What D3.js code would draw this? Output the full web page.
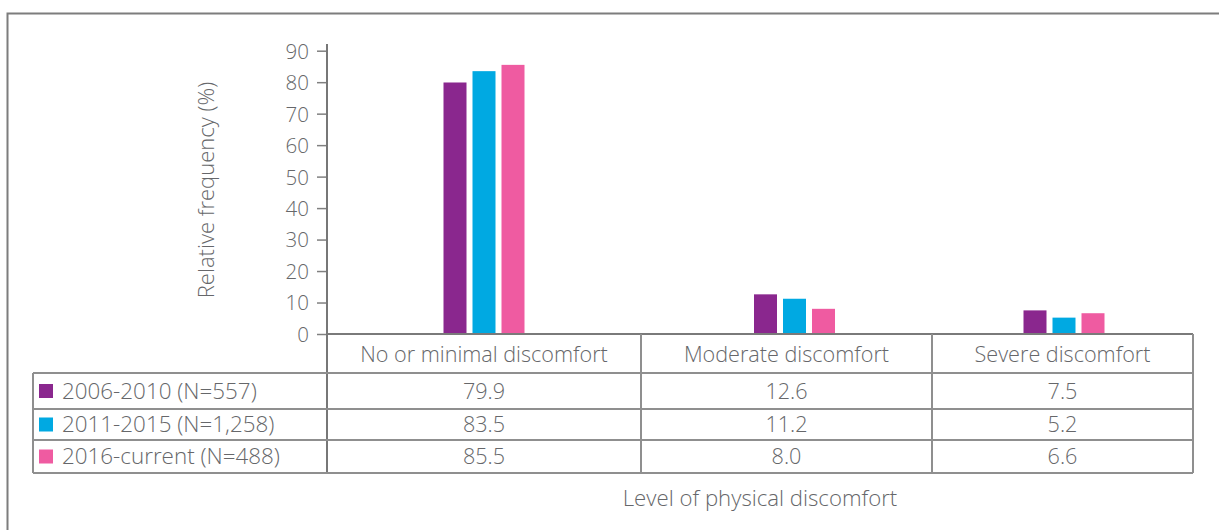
<!DOCTYPE html>
<html><head><meta charset="utf-8">
<script src="https://cdn.jsdelivr.net/npm/d3@7"></script>
<style>
body{margin:0;background:#fff}
svg{display:block}
text{font-family:'Open Sans',sans-serif;fill:#66676a;font-weight:300}
</style></head>
<body><svg id="c" width="1219" height="530"></svg>
<script>
const categories = ["No or minimal discomfort", "Moderate discomfort", "Severe discomfort"];
const seriesNames = ["2006-2010 (N=557)", "2011-2015 (N=1,258)", "2016-current (N=488)"];
const values2006 = [79.9, 12.6, 7.5];
const values2011 = [83.5, 11.2, 5.2];
const values2016 = [85.5, 8.0, 6.6];
const yTicks = [0, 10, 20, 30, 40, 50, 60, 70, 80, 90];
const yTitle = "Relative frequency (%)";
const xTitle = "Level of physical discomfort";
const seriesColors = ["#8a278e", "#00a9e2", "#ef5ba1"];

const seriesValues = [values2006, values2011, values2016];
const fmt = d3.format(".1f");

const svg = d3.select("#c");
const FS = 21.6;
const lineCol = "#8f8f8f";

// layout
const plotLeft = 327, tableRight = 1193, tableLeft = 33;
const colWeights = [314, 291, 261];
const barShift = [0, 8, 1.5];
const yTop = 50.7, yBase = 334;
const rowLines = [373, 409, 440, 473];

// frame
svg.append("rect").attr("x", 7.5).attr("y", 13.5).attr("width", 1300).attr("height", 600)
  .attr("fill", "none").attr("stroke", "#7d7d7d").attr("stroke-width", 2);

// column scale
const colEdges = [plotLeft];
colWeights.forEach((w, i) => colEdges.push(colEdges[i] + w));
const colLeft = d3.scaleOrdinal().domain(categories).range(colEdges.slice(0, 3));
const colW = d3.scaleOrdinal().domain(categories).range(colWeights);
const colShift = d3.scaleOrdinal().domain(categories).range(barShift);
const colCenter = c => colLeft(c) + colW(c) / 2;

const y = d3.scaleLinear().domain([0, 90]).range([yBase, yTop]);
const inner = d3.scaleBand().domain(seriesNames).range([-40.5, 40.5]).paddingInner(6 / 29);

// bars
const barData = [];
categories.forEach((c, ci) => seriesNames.forEach((s, si) => barData.push({c, s, si, v: seriesValues[si][ci]})));
svg.append("g").selectAll("rect").data(barData).join("rect")
  .attr("x", d => colCenter(d.c) + colShift(d.c) + inner(d.s))
  .attr("width", inner.bandwidth())
  .attr("y", d => y(d.v))
  .attr("height", d => y(0) - y(d.v))
  .attr("fill", d => seriesColors[d.si]);

// y axis
const yAxis = d3.axisLeft(y).tickValues(yTicks).tickSize(10).tickPadding(8).tickSizeOuter(0);
const ga = svg.append("g").attr("transform", `translate(${plotLeft},0)`).call(yAxis);
ga.select(".domain").remove();
ga.selectAll(".tick line").attr("stroke", "#808080").attr("stroke-width", 1.5);
ga.selectAll(".tick text").style("font-family", "'Open Sans',sans-serif").style("font-size", "20.5px")
  .style("font-weight", 300).attr("fill", "#66676a").attr("dy", "0.36em");
svg.append("line").attr("x1", plotLeft).attr("x2", plotLeft).attr("y1", 44).attr("y2", rowLines[3])
  .attr("stroke", "#777").attr("stroke-width", 2);

svg.append("text").attr("transform", `translate(214,${(83 + 297) / 2}) rotate(-90)`)
  .attr("text-anchor", "middle").style("font-size", "22px").text(yTitle);

// table lines
const tl = svg.append("g").attr("stroke", lineCol).attr("stroke-width", 2);
tl.append("line").attr("x1", plotLeft).attr("x2", tableRight).attr("y1", yBase).attr("y2", yBase).attr("stroke", "#7a7a7a");
rowLines.forEach(r => tl.append("line").attr("x1", tableLeft).attr("x2", tableRight).attr("y1", r).attr("y2", r));
colEdges.slice(1).forEach(x => tl.append("line").attr("x1", x).attr("x2", x).attr("y1", yBase).attr("y2", rowLines[3]));
tl.append("line").attr("x1", tableLeft).attr("x2", tableLeft).attr("y1", rowLines[0]).attr("y2", rowLines[3]);

// header
svg.append("g").selectAll("text").data(categories).join("text")
  .attr("x", colCenter).attr("y", (yBase + rowLines[0]) / 2 + 1).attr("dy", "0.35em")
  .attr("text-anchor", "middle").style("font-size", FS + "px").text(d => d);

// rows
seriesNames.forEach((s, si) => {
  const cy = (rowLines[si] + rowLines[si + 1]) / 2;
  svg.append("rect").attr("x", 39).attr("y", cy - 7).attr("width", 14).attr("height", 14).attr("fill", seriesColors[si]);
  svg.append("text").attr("x", 62).attr("y", cy).attr("dy", "0.35em").style("font-size", "22.4px").text(s);
  svg.append("g").selectAll("text").data(categories).join("text")
    .attr("x", colCenter).attr("y", cy).attr("dy", "0.35em").attr("text-anchor", "middle")
    .style("font-size", FS + "px").text((c, ci) => fmt(seriesValues[si][ci]));
});

svg.append("text").attr("x", (plotLeft + tableRight) / 2).attr("y", 498).attr("dy", "0.35em")
  .attr("text-anchor", "middle").style("font-size", "22.2px").text(xTitle);
</script></body></html>
